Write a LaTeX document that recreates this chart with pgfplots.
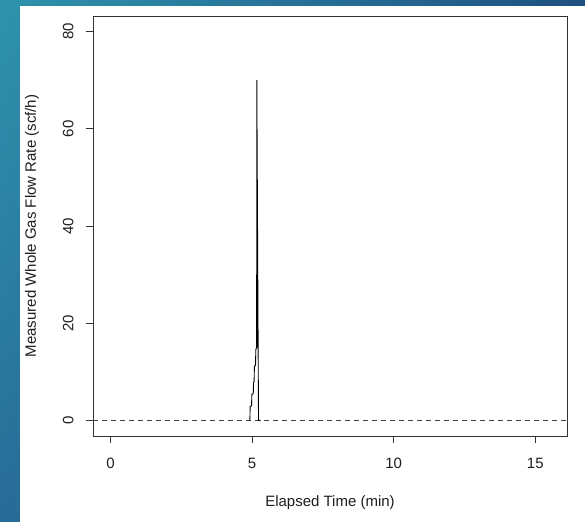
\documentclass[border=0pt]{standalone}
\usepackage{pgfplots}
\pgfplotsset{compat=1.18}
\usetikzlibrary{shadings}
\usepackage{fontspec}
\setmainfont{Liberation Sans}
\definecolor{bgUL}{RGB}{46,147,172}
\definecolor{bgUR}{RGB}{30,80,128}
\definecolor{bgLL}{RGB}{40,108,152}
\definecolor{bgLR}{RGB}{30,70,120}
\definecolor{txt}{RGB}{30,30,30}
\begin{document}
\begin{tikzpicture}
\useasboundingbox (0,0) rectangle (585bp,522bp);
\shade[upper left=bgUL, upper right=bgUR, lower left=bgLL, lower right=bgLR]
  (0,0) rectangle (585bp,522bp);
\fill[white] (20bp,0) rectangle (585bp,516bp);
\begin{axis}[
  at={(93bp,86bp)}, anchor=south west,
  scale only axis, width=474bp, height=420bp,
  xmin=-0.62, xmax=16.12, ymin=-3.2, ymax=83.2,
  xtick={0,5,10,15}, ytick={0,20,40,60,80},
  xtick pos=bottom, ytick pos=left,
  tick align=outside, major tick length=7bp,
  tick style={black!80, line width=0.8pt},
  axis line style={black!80, line width=0.8pt},
  font=\fontsize{15bp}{18bp}\selectfont,
  /pgf/number format/assume math mode=true,
  xticklabel style={yshift=-12bp, text=txt},
  yticklabel style={xshift=-9bp, rotate=90, anchor=south, text=txt},
  xlabel={Elapsed Time (min)},
  ylabel={Measured Whole Gas Flow Rate (scf/h)},
  xlabel style={yshift=-20bp, text=txt},
  ylabel style={yshift=17bp, text=txt},
]
\addplot[black!75, line width=0.7pt, dash pattern=on 5bp off 4bp] coordinates {(-0.62,0) (16.12,0)};
\addplot[black, line width=0.9pt] coordinates {
(4.92,0) (4.93,2.9) (4.98,3.0) (4.99,5.4) (5.04,5.5) (5.05,7.8) (5.07,8) (5.08,11.2) (5.12,11.3) (5.13,14.6) (5.16,15) (5.16,30) (5.165,15) (5.165,70) (5.22,5.8) (5.225,0) (5.30,0)
};
\end{axis}
\end{tikzpicture}
\end{document}
